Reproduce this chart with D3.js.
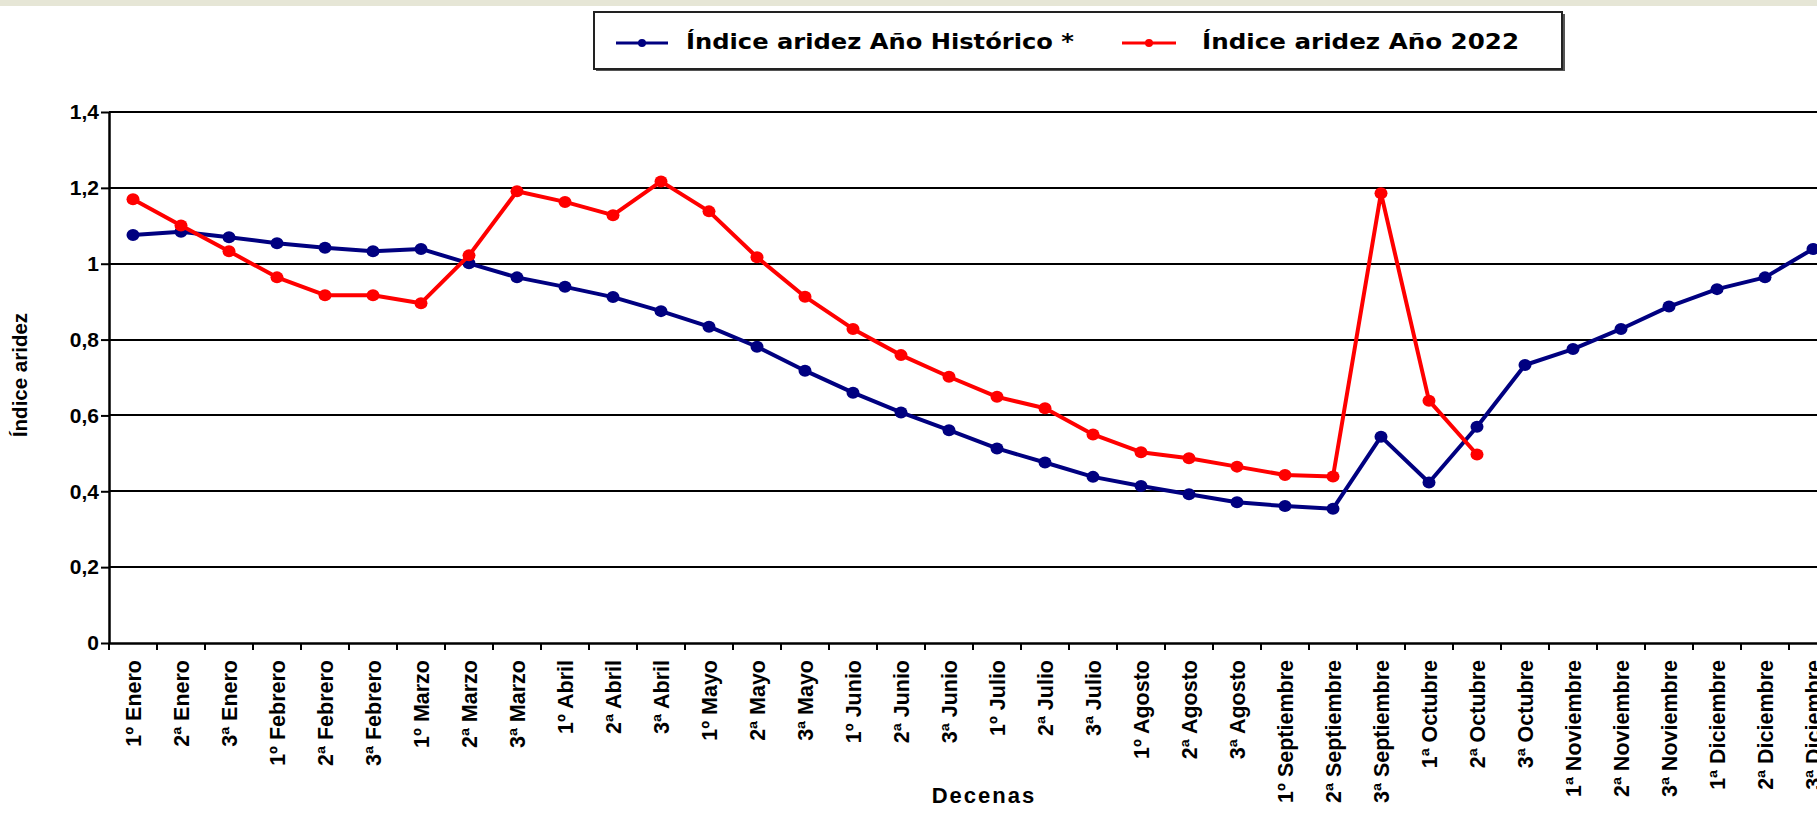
<!DOCTYPE html>
<html>
<head>
<meta charset="utf-8">
<script src="https://cdn.jsdelivr.net/npm/d3@7"></script>
<style>
  html, body { margin: 0; padding: 0; background: #fff; }
  svg { display: block; }
</style>
</head>
<body>
<svg id="chart" width="1817" height="818"></svg>
<script>
const categories = [
  "1º Enero","2ª Enero","3ª Enero","1º Febrero","2ª Febrero","3ª Febrero",
  "1º Marzo","2ª Marzo","3ª Marzo","1º Abril","2ª Abril","3ª Abril",
  "1º Mayo","2ª Mayo","3ª Mayo","1º Junio","2ª Junio","3ª Junio",
  "1º Julio","2ª Julio","3ª Julio","1º Agosto","2ª Agosto","3ª Agosto",
  "1º Septiembre","2ª Septiembre","3ª Septiembre","1ª Octubre","2ª Octubre","3ª Octubre",
  "1ª Noviembre","2ª Noviembre","3ª Noviembre","1ª Diciembre","2ª Diciembre","3ª Diciembre"
];
const historico = [1.076,1.084,1.070,1.054,1.042,1.033,1.039,1.001,0.964,0.939,0.912,0.875,
  0.834,0.781,0.718,0.660,0.608,0.561,0.513,0.476,0.438,0.414,0.392,0.371,
  0.361,0.354,0.544,0.423,0.570,0.733,0.775,0.828,0.887,0.933,0.964,1.039];
const anio2022 = [1.170,1.101,1.033,0.964,0.917,0.917,0.896,1.022,1.191,1.163,1.128,1.217,
  1.138,1.017,0.913,0.828,0.759,0.702,0.649,0.619,0.550,0.503,0.487,0.465,
  0.443,0.439,1.186,0.639,0.497,null,null,null,null,null,null,null];
const yTicks = [0,0.2,0.4,0.6,0.8,1.0,1.2,1.4];
const seriesNames = ["Índice aridez Año Histórico *", "Índice aridez Año 2022"];
const yTitle = "Índice aridez";
const xTitle = "Decenas";

const svg = d3.select("#chart");
const left = 109, bandW = 48;
const x = d3.scaleBand().domain(categories).range([left, left + bandW * categories.length]).padding(0);
const y = d3.scaleLinear().domain([0, 1.4]).range([643, 112]);
const fmt = v => v === 0 ? "0" : (Number.isInteger(v) ? String(v) : d3.format(".1f")(v).replace(".", ","));
const FONT = "'Liberation Sans', Arial, Helvetica, sans-serif";

svg.append("rect").attr("width", 1817).attr("height", 818).attr("fill", "#fff");
// top band
svg.append("rect").attr("x", 0).attr("y", 0).attr("width", 1817).attr("height", 6).attr("fill", "#e6e6d6");

// gridlines
svg.append("g").selectAll("line").data(yTicks.filter(d => d > 0)).join("line")
  .attr("x1", left).attr("x2", 1817)
  .attr("y1", d => Math.round(y(d))).attr("y2", d => Math.round(y(d)))
  .attr("stroke", "#000").attr("stroke-width", 2);

// y axis
const yAxis = svg.append("g").attr("transform", `translate(${left},0)`)
  .call(d3.axisLeft(y).tickValues(yTicks).tickFormat(fmt).tickSize(8).tickSizeOuter(0));
yAxis.select(".domain").attr("stroke", "#000").attr("stroke-width", 2.5);
yAxis.selectAll(".tick line").attr("stroke", "#000").attr("stroke-width", 2);
yAxis.selectAll(".tick text").attr("font-family", FONT).attr("font-size", 21)
  .attr("font-weight", "bold").attr("fill", "#000").attr("x", -10);

// x axis
const xAxis = svg.append("g").attr("transform", `translate(0,${y(0)})`)
  .call(d3.axisBottom(x).tickSize(0).tickSizeOuter(0));
xAxis.select(".domain").attr("stroke", "#000").attr("stroke-width", 2.5);
xAxis.selectAll(".tick text")
  .attr("font-family", FONT).attr("font-size", 21.5).attr("font-weight", "bold").attr("fill", "#000")
  .attr("text-anchor", "end").attr("transform", "rotate(-90)")
  .attr("x", -17).attr("y", 0).attr("dy", "0.36em");
// tick marks at band boundaries
svg.append("g").selectAll("line").data(d3.range(categories.length + 1)).join("line")
  .attr("x1", i => left + i * x.bandwidth()).attr("x2", i => left + i * x.bandwidth())
  .attr("y1", y(0)).attr("y2", y(0) + 7)
  .attr("stroke", "#000").attr("stroke-width", 2);

// axis titles
svg.append("text").attr("transform", "translate(27,375) rotate(-90)")
  .attr("text-anchor", "middle").attr("font-family", FONT).attr("font-size", 20.5)
  .attr("font-weight", "bold").text(yTitle);
svg.append("text").attr("x", 984).attr("y", 803)
  .attr("text-anchor", "middle").attr("font-family", FONT).attr("font-size", 22)
  .attr("font-weight", "bold").attr("letter-spacing", 2).text(xTitle);

// lines
const colors = ["#000080", "#ff0000"];
const line = d3.line().defined(d => d.v != null).x(d => x(d.c) + x.bandwidth() / 2).y(d => y(d.v));
[historico, anio2022].forEach((vals, si) => {
  const data = categories.map((c, i) => ({ c, v: vals[i] }));
  svg.append("path").datum(data).attr("d", line).attr("fill", "none")
    .attr("stroke", colors[si]).attr("stroke-width", 4).attr("stroke-linejoin", "round");
  svg.append("g").selectAll("ellipse").data(data.filter(d => d.v != null)).join("ellipse")
    .attr("cx", d => x(d.c) + x.bandwidth() / 2).attr("cy", d => y(d.v))
    .attr("rx", 6.5).attr("ry", 6).attr("fill", colors[si]);
});

// legend
const lg = svg.append("g");
lg.append("rect").attr("x", 596).attr("y", 14).attr("width", 969).attr("height", 57).attr("fill", "#555");
lg.append("rect").attr("x", 594).attr("y", 12).attr("width", 968).attr("height", 57)
  .attr("fill", "#fff").attr("stroke", "#222").attr("stroke-width", 2);
const legendItems = [
  { name: seriesNames[0], color: colors[0], lx: 616, lx2: 668, tx: 686, tw: 388 },
  { name: seriesNames[1], color: colors[1], lx: 1122, lx2: 1176, tx: 1202, tw: 317 }
];
legendItems.forEach(it => {
  lg.append("line").attr("x1", it.lx).attr("x2", it.lx2).attr("y1", 43).attr("y2", 43)
    .attr("stroke", it.color).attr("stroke-width", 3);
  lg.append("circle").attr("cx", (it.lx + it.lx2) / 2).attr("cy", 43).attr("r", 4).attr("fill", it.color);
  lg.append("text").attr("x", it.tx).attr("y", 49)
    .attr("font-family", "'DejaVu Sans', Tahoma, Verdana, sans-serif").attr("font-size", 22)
    .attr("font-weight", "bold").attr("fill", "#000")
    .attr("textLength", it.tw).attr("lengthAdjust", "spacingAndGlyphs").text(it.name);
});
</script>
</body>
</html>
